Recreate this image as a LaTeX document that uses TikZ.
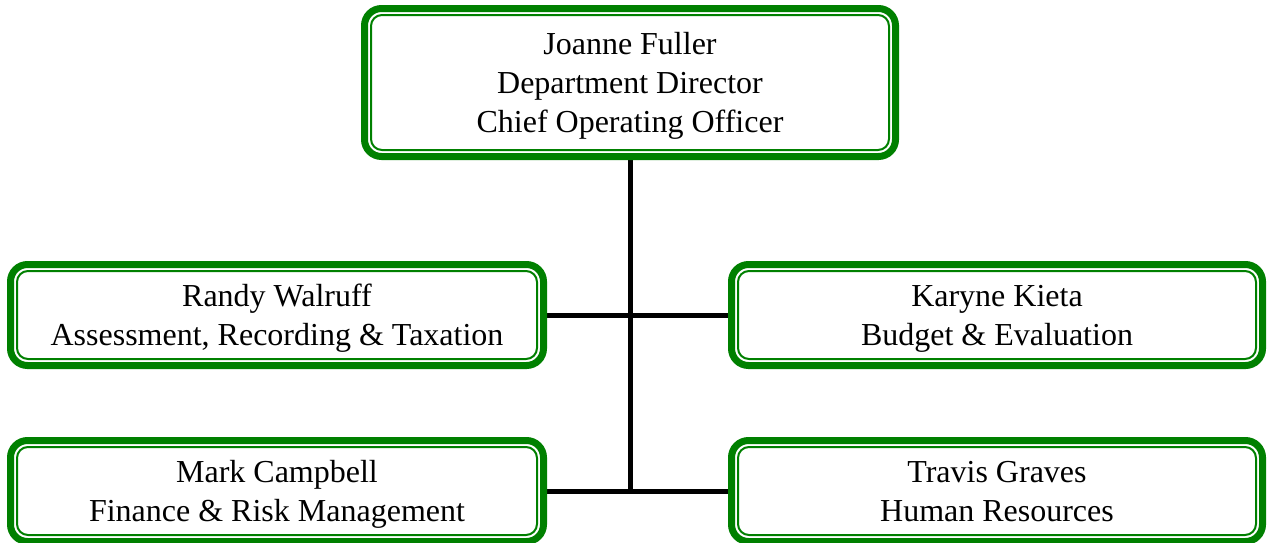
\documentclass[tikz,border=0pt]{standalone}
\usepackage{fontspec}
\setmainfont{Liberation Serif}
\usetikzlibrary{backgrounds}
\definecolor{ogreen}{RGB}{0,128,0}
\begin{document}
\begin{tikzpicture}[x=1pt,y=-1pt,
  box/.style={draw=ogreen, line width=7pt, rounded corners=17pt, fill=white, align=center,
    font=\fontsize{32}{39}\selectfont, inner sep=0pt, outer sep=0pt, text depth=0pt},
  innerframe/.style={draw=ogreen, line width=2pt, rounded corners=11pt},
  link/.style={draw=black, line width=5pt}]
\useasboundingbox (0,0) rectangle (1267,542);
\node[box, minimum width=531pt, minimum height=148pt, text depth=-5pt] (top) at (630,82.5)
  {Joanne Fuller\\Department Director\\Chief Operating Officer};
\node[box, minimum width=533pt, minimum height=101pt] (rw) at (277,315)
  {Randy Walruff\\Assessment, Recording \& Taxation};
\node[box, minimum width=531pt, minimum height=101pt] (kk) at (997,315)
  {Karyne Kieta\\Budget \& Evaluation};
\node[box, minimum width=533pt, minimum height=101pt] (mc) at (277,491)
  {Mark Campbell\\Finance \& Risk Management};
\node[box, minimum width=531pt, minimum height=101pt] (tg) at (997,491)
  {Travis Graves\\Human Resources};
\foreach \n in {top,rw,kk,mc,tg}
  \draw[innerframe] ([shift={(6.5,6.5)}]\n.north west) rectangle ([shift={(-6.5,-6.5)}]\n.south east);
\begin{scope}[on background layer]
  \fill[white] (0,0) rectangle (1267,542);
  \draw[link] (top.south) -- (top.south |- mc.east);
  \draw[link] (rw.east) -- (kk.west);
  \draw[link] (mc.east) -- (tg.west);
\end{scope}
\end{tikzpicture}
\end{document}
